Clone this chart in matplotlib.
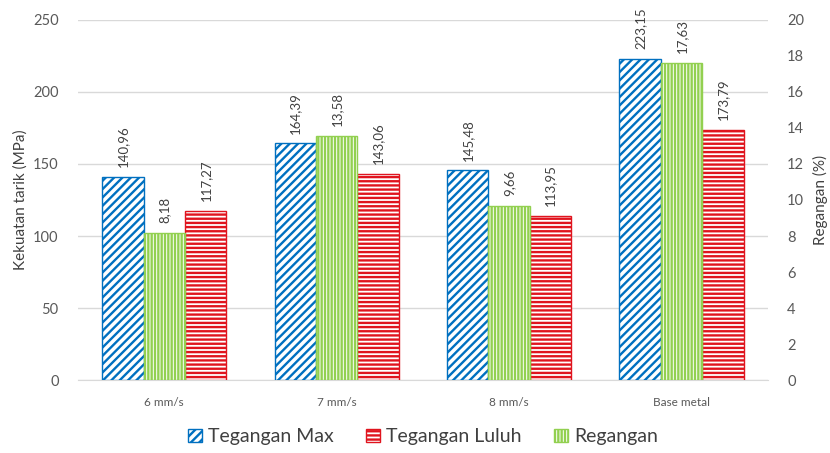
import matplotlib
matplotlib.use("Agg")
import matplotlib.pyplot as plt
from matplotlib.patches import Patch
import numpy as np

categories = ["6 mm/s", "7 mm/s", "8 mm/s", "Base metal"]
tegangan_max = [140.96, 164.39, 145.48, 223.15]
tegangan_luluh = [117.27, 143.06, 113.95, 173.79]
regangan = [8.18, 13.58, 9.66, 17.63]

blue = "#0070C0"
red = "#E0141E"
green = "#92D050"
label_color = "#404040"
tick_color = "#595959"
grid_color = "#D9D9D9"

plt.rcParams["font.family"] = ["Lato", "DejaVu Sans"]
plt.rcParams["hatch.linewidth"] = 1.7

fig = plt.figure(figsize=(8.3, 4.53), dpi=100)
ax = fig.add_axes([0.094, 0.161, 0.831, 0.795])
ax2 = ax.twinx()

x = np.arange(len(categories))
w = 0.24

def fmt(v):
    return f"{v:.2f}".replace(".", ",")

b1 = ax.bar(x - w, tegangan_max, w, facecolor="white", edgecolor=blue,
            hatch="////", linewidth=1.0, zorder=3)
b3 = ax.bar(x + w, tegangan_luluh, w, facecolor="white", edgecolor=red,
            hatch="----", linewidth=1.0, zorder=3)
b2 = ax2.bar(x, regangan, w, facecolor="white", edgecolor=green,
             hatch="|||||", linewidth=1.0, zorder=3)

for axis, bars, vals in ((ax, b1, tegangan_max), (ax, b3, tegangan_luluh),
                         (ax2, b2, regangan)):
    for rect, v in zip(bars, vals):
        axis.annotate(fmt(v), (rect.get_x() + rect.get_width() / 2, v),
                      xytext=(0, 7), textcoords="offset points",
                      rotation=90, ha="center", va="bottom",
                      fontsize=9.5, color=label_color)

ax.set_xlim(-0.5, len(categories) - 0.5)
ax.set_ylim(0, 250)
ax.set_yticks(np.arange(0, 251, 50))
ax2.set_ylim(0, 20)
ax2.set_yticks(np.arange(0, 21, 2))

ax.set_xticks(x)
ax.set_xticklabels(categories)
ax.yaxis.grid(True, color=grid_color, linewidth=1.0, zorder=0)
ax.set_axisbelow(True)

for a in (ax, ax2):
    for s in ("top", "left", "right"):
        a.spines[s].set_visible(False)
ax2.spines["bottom"].set_visible(False)
ax.spines["bottom"].set_color(grid_color)

ax.tick_params(axis="x", length=0, pad=12, labelsize=8.5, labelcolor=tick_color)
ax.tick_params(axis="y", length=0, pad=14, labelsize=10.5, labelcolor=tick_color)
ax2.tick_params(axis="y", length=0, pad=14, labelsize=10.5, labelcolor=tick_color)

ax.set_ylabel("Kekuatan tarik (MPa)", fontsize=11, color=label_color, labelpad=4)
ax2.set_ylabel("Regangan (%)", fontsize=11, color=label_color, labelpad=6)

handles = [
    Patch(facecolor="white", edgecolor=blue, hatch="////", label="Tegangan Max"),
    Patch(facecolor="white", edgecolor=red, hatch="----", label="Tegangan Luluh"),
    Patch(facecolor="white", edgecolor=green, hatch="|||||", label="Regangan"),
]
ax.legend(handles=handles, loc="center", bbox_to_anchor=(0.5, -0.158),
          ncol=3, frameon=False, fontsize=14, handlelength=0.7,
          handleheight=0.7, handletextpad=0.3, columnspacing=1.7,
          labelcolor=label_color)

fig.savefig("out.png", dpi=100)
